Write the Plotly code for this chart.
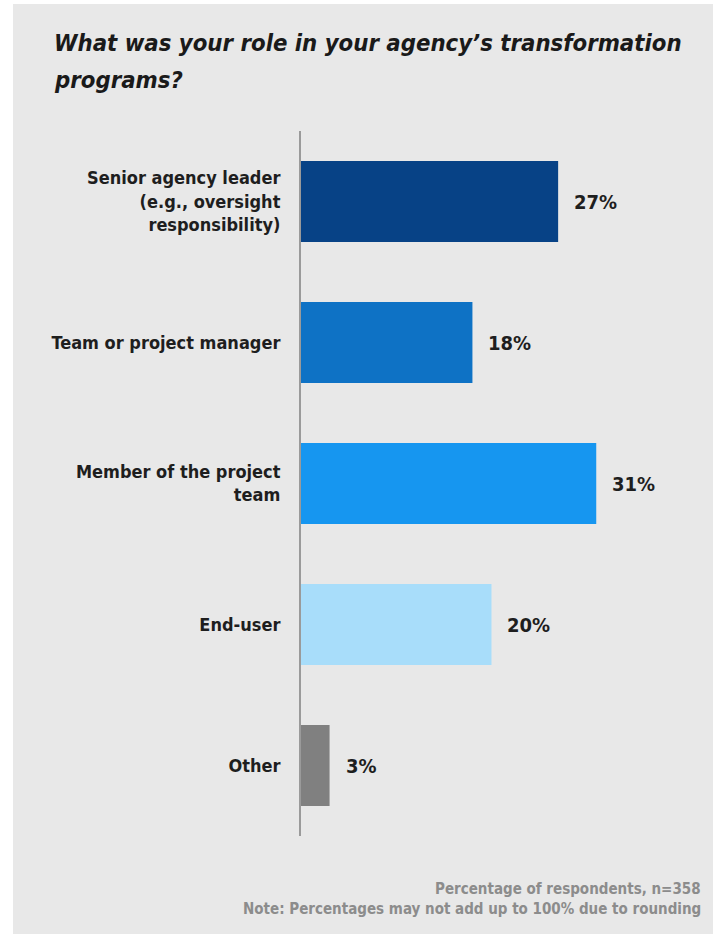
import plotly.graph_objects as go

# Survey question: role in agency transformation programs
categories = [
    "Senior agency leader<br>(e.g., oversight<br>responsibility)",
    "Team or project manager",
    "Member of the project<br>team",
    "End-user",
    "Other",
]
values = [27, 18, 31, 20, 3]
value_labels = ["27%", "18%", "31%", "20%", "3%"]
bar_colors = ["#074286", "#0e72c5", "#1696f0", "#a8ddfa", "#808080"]
title_lines = ["What was your role in your agency’s transformation", "programs?"]
footnotes = [
    "Percentage of respondents, n=358",
    "Note: Percentages may not add up to 100% due to rounding",
]

FONT = "DejaVu Sans Condensed, Liberation Sans Narrow, Arial Narrow, sans-serif"
PANEL = "#e8e8e8"

W, H = 713, 934
L, R_EDGE = 301, 701          # plot area horizontal extent (px)
T, B_EDGE = 131, 836          # plot area vertical extent (px)
X_MAX = 42

fig = go.Figure()
fig.add_trace(go.Bar(
    x=values,
    y=categories,
    orientation="h",
    marker=dict(color=bar_colors, line=dict(width=0)),
    width=0.575,
    hoverinfo="skip",
))

# value labels just right of each bar end
for cat, v, lab in zip(categories, values, value_labels):
    fig.add_annotation(
        x=v, y=cat, text=lab, showarrow=False,
        xanchor="left", yanchor="middle", xshift=14,
        font=dict(family=FONT, size=20, color="#1e1e1e", weight="bold"),
    )

pw = R_EDGE - L
ph = B_EDGE - T

def px_x(px):
    return (px - L) / pw

def px_y(py):
    return (B_EDGE - py) / ph

# light grey panel behind the whole chart
fig.add_shape(
    type="rect", xref="paper", yref="paper",
    x0=px_x(13), x1=px_x(W + 20), y0=px_y(H + 20), y1=px_y(4),
    fillcolor=PANEL, line=dict(width=0), layer="below",
)

# two-line heading
for line, cy in zip(title_lines, [43, 80]):
    fig.add_annotation(
        xref="paper", yref="paper", x=px_x(52), y=px_y(cy),
        xanchor="left", yanchor="middle", showarrow=False,
        text=line,
        font=dict(family=FONT, size=23.7, color="#1a1a1a", weight="bold", style="italic"),
    )

# footnotes
for line, cy in zip(footnotes, [889, 909]):
    fig.add_annotation(
        xref="paper", yref="paper", x=px_x(703), y=px_y(cy),
        xanchor="right", yanchor="middle", showarrow=False,
        text=line,
        font=dict(family=FONT, size=15, color="#8c8c8c", weight="bold"),
    )

fig.update_layout(
    width=W, height=H,
    margin=dict(l=L, r=W - R_EDGE, t=T, b=H - B_EDGE, pad=0),
    paper_bgcolor="white",
    plot_bgcolor=PANEL,
    showlegend=False,
    xaxis=dict(
        range=[0, X_MAX], showgrid=False, zeroline=False,
        showticklabels=False, showline=False, ticks="",
    ),
    yaxis=dict(
        range=[4.5, -0.5], showgrid=False, zeroline=False,
        showline=True, linecolor="#9a9a9a", linewidth=2,
        ticks="", ticklabelstandoff=15,
        tickfont=dict(family=FONT, size=18, color="#1e1e1e", weight="bold"),
    ),
    bargap=0.425,
)

fig.write_html("out.html")
